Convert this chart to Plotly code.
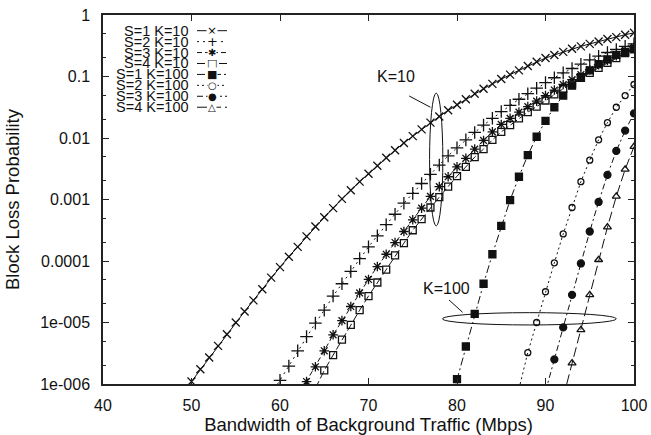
import plotly.graph_objects as go

# ---- data: x = bandwidth of background traffic (Mbps); values = log10(block loss probability)
x_s1_k10 = list(range(49, 101))
log_s1_k10 = [-6.15, -5.96, -5.76, -5.57, -5.38, -5.19, -5.0, -4.82, -4.64, -4.46,
              -4.27, -4.1, -3.93, -3.77, -3.6, -3.44, -3.29, -3.14, -2.99, -2.85,
              -2.71, -2.58, -2.45, -2.32, -2.2, -2.08, -1.97, -1.86, -1.75, -1.65,
              -1.55, -1.46, -1.37, -1.28, -1.2, -1.12, -1.04, -0.97, -0.9, -0.83,
              -0.76, -0.7, -0.65, -0.6, -0.55, -0.51, -0.47, -0.43, -0.39, -0.36,
              -0.32, -0.29]

x_s2_k10 = list(range(59, 101))
log_s2_k10 = [-6.17, -5.94, -5.71, -5.46, -5.23, -5.01, -4.8, -4.57, -4.37, -4.17,
              -3.96, -3.77, -3.59, -3.41, -3.24, -3.06, -2.9, -2.74, -2.59, -2.44,
              -2.29, -2.16, -2.03, -1.91, -1.79, -1.68, -1.57, -1.47, -1.37, -1.28,
              -1.19, -1.1, -1.02, -0.94, -0.87, -0.8, -0.73, -0.67, -0.61, -0.56,
              -0.51, -0.47]

x_s3_k10 = list(range(62, 101))
log_s3_k10 = [-6.2, -5.96, -5.72, -5.46, -5.2, -4.97, -4.74, -4.52, -4.3, -4.09,
              -3.89, -3.7, -3.52, -3.33, -3.14, -2.95, -2.79, -2.63, -2.47, -2.33,
              -2.18, -2.04, -1.9, -1.78, -1.68, -1.58, -1.49, -1.4, -1.31, -1.22,
              -1.13, -1.05, -0.97, -0.89, -0.81, -0.74, -0.66, -0.59, -0.52]

x_s4_k10 = list(range(64, 101))
log_s4_k10 = [-6.07, -5.78, -5.53, -5.28, -5.04, -4.8, -4.57, -4.35, -4.14, -3.91,
              -3.71, -3.5, -3.32, -3.13, -2.96, -2.79, -2.62, -2.47, -2.31, -2.18,
              -2.03, -1.9, -1.79, -1.68, -1.58, -1.49, -1.39, -1.29, -1.2, -1.11,
              -1.02, -0.94, -0.86, -0.78, -0.7, -0.62, -0.55]

x_s1_k100 = list(range(79, 101))
log_s1_k100 = [-6.45, -5.92, -5.39, -4.86, -4.37, -3.89, -3.43, -3.01, -2.63, -2.28,
               -1.98, -1.72, -1.5, -1.31, -1.15, -1.01, -0.9, -0.8, -0.72, -0.65,
               -0.6, -0.56]

x_s2_k100 = list(range(87, 101))
log_s2_k100 = [-6.08, -5.49, -5.0, -4.5, -4.03, -3.56, -3.13, -2.71, -2.36, -2.03,
               -1.75, -1.5, -1.31, -1.13]

x_s3_k100 = list(range(90, 101))
log_s3_k100 = [-6.12, -5.6, -5.08, -4.55, -4.04, -3.52, -3.04, -2.6, -2.21, -1.88, -1.6]

x_s4_k100 = list(range(92, 101))
log_s4_k100 = [-6.22, -5.66, -5.12, -4.55, -3.98, -3.45, -2.95, -2.51, -2.14]

series_names = ["S=1 K=10", "S=2 K=10", "S=3 K=10", "S=4 K=10",
                "S=1 K=100", "S=2 K=100", "S=3 K=100", "S=4 K=100"]

x_ticks = [40, 50, 60, 70, 80, 90, 100]
y_tickvals = [1, 0.1, 0.01, 0.001, 0.0001, 1e-5, 1e-6]
y_ticktext = ["1", "0.1", "0.01", "0.001", "0.0001", "1e-005", "1e-006"]

# ---- styles
INK = "#111111"
FONT = "Liberation Sans, Arial, Helvetica, sans-serif"
styles = [
    # symbol, size, dash, legend glyph, glyph size
    ("x-thin-open", 8, "solid", "\u00d7", 12),
    ("cross-thin-open", 9, "2px,4px", "+", 13),
    ("asterisk-open", 8, "5px,3px", "\u2731", 10),
    ("square-open", 7, "8px,3px", "\u25a1", 11),
    ("square", 7, "8px,3px,2px,3px", "\u25a0", 11),
    ("circle-open", 6, "2px,3px", "\u25cb", 10),
    ("circle", 7, "6px,3px,2px,3px", "\u25cf", 10),
    ("triangle-up-open", 7, "10px,4px", "\u25b3", 10),
]
xs_all = [x_s1_k10, x_s2_k10, x_s3_k10, x_s4_k10, x_s1_k100, x_s2_k100, x_s3_k100, x_s4_k100]
logs_all = [log_s1_k10, log_s2_k10, log_s3_k10, log_s4_k10,
            log_s1_k100, log_s2_k100, log_s3_k100, log_s4_k100]

fig = go.Figure()
for name, xs, lg, st in zip(series_names, xs_all, logs_all, styles):
    sym, size, dash, _, _ = st
    fig.add_trace(go.Scatter(
        x=xs, y=[10 ** v for v in lg], name=name, mode="lines+markers",
        line=dict(color=INK, width=1, dash=dash),
        marker=dict(symbol=sym, size=size, color=INK, line=dict(color=INK, width=1.3)),
        showlegend=False, cliponaxis=True))

# ---- plot-area geometry (pixels) for decorations
L, R, T, B = 103, 634, 15, 384
def px(x):
    return (x - L) / (R - L)
def py(y):
    return (B - y) / (B - T)

shapes = []
annotations = []

# custom gnuplot-style key: text on the left, line sample with symbol on the right
for i, (name, st) in enumerate(zip(series_names, styles)):
    _, _, dash, glyph, gsize = st
    yy = 30.7 + 10.93 * i
    annotations.append(dict(xref="paper", yref="paper", x=px(189.5), y=py(yy),
                            text=name, showarrow=False, xanchor="right", yanchor="middle",
                            borderpad=0, font=dict(family=FONT, size=14.5, color=INK)))
    shapes.append(dict(type="line", xref="paper", yref="paper", x0=px(197), x1=px(227),
                       y0=py(yy), y1=py(yy), line=dict(color=INK, width=1, dash=dash)))
    annotations.append(dict(xref="paper", yref="paper", x=px(212), y=py(yy),
                            text=glyph, showarrow=False, xanchor="center", yanchor="middle",
                            bgcolor="white", borderpad=0,
                            font=dict(family="DejaVu Sans", size=gsize, color=INK)))

# K=10 ellipse, leader and label
shapes.append(dict(type="circle", xref="x", yref="y", x0=76.9, x1=78.4,
                   y0=10 ** -3.43, y1=10 ** -1.27, line=dict(color=INK, width=1)))
shapes.append(dict(type="line", xref="x", yref="y", x0=74.6, y0=10 ** -1.317,
                   x1=77.0, y1=10 ** -1.50, line=dict(color=INK, width=1)))
annotations.append(dict(xref="x", yref="y", x=73.1, y=-1.008, text="K=10", showarrow=False,
                        font=dict(family=FONT, size=16, color=INK)))

# K=100 ellipse, leader and label
shapes.append(dict(type="circle", xref="x", yref="y", x0=78.36, x1=98.0,
                   y0=10 ** -5.04, y1=10 ** -4.84, line=dict(color=INK, width=1)))
shapes.append(dict(type="line", xref="x", yref="y", x0=79.1, y0=10 ** -4.634,
                   x1=80.63, y1=10 ** -4.834, line=dict(color=INK, width=1)))
annotations.append(dict(xref="x", yref="y", x=78.76, y=-4.439, text="K=100", showarrow=False,
                        font=dict(family=FONT, size=16, color=INK)))

fig.update_layout(
    width=651, height=435, autosize=False,
    margin=dict(l=L, r=651 - R, t=T, b=435 - B, pad=0),
    paper_bgcolor="white", plot_bgcolor="white",
    font=dict(family=FONT, size=16, color=INK),
    shapes=shapes, annotations=annotations,
    showlegend=False,
)
fig.update_xaxes(
    automargin=False,
    range=[40, 100], tickmode="array", tickvals=x_ticks, ticktext=[str(v) for v in x_ticks],
    showgrid=False, zeroline=False, showline=True, linecolor="#222", linewidth=1.5,
    mirror="ticks", ticks="inside", ticklen=6, tickwidth=1, tickcolor="#222",
    ticklabelstandoff=6,
    tickfont=dict(family=FONT, size=16, color=INK),
    title=dict(text="Bandwidth of Background Traffic (Mbps)", standoff=6,
               font=dict(family=FONT, size=18.5, color=INK)),
)
fig.update_yaxes(
    automargin=False,
    type="log", range=[-6, 0], tickmode="array", tickvals=y_tickvals, ticktext=y_ticktext,
    showgrid=False, zeroline=False, showline=True, linecolor="#222", linewidth=1.5,
    mirror="ticks", ticks="inside", ticklen=6, tickwidth=1, tickcolor="#222",
    ticklabelstandoff=8,
    minor=dict(ticks="inside", ticklen=3, tickcolor="#222", dtick="D2", showgrid=False),
    tickfont=dict(family=FONT, size=16, color=INK),
    title=dict(text="Block Loss Probability", standoff=16,
               font=dict(family=FONT, size=18.5, color=INK)),
)

fig.write_html("out.html")
